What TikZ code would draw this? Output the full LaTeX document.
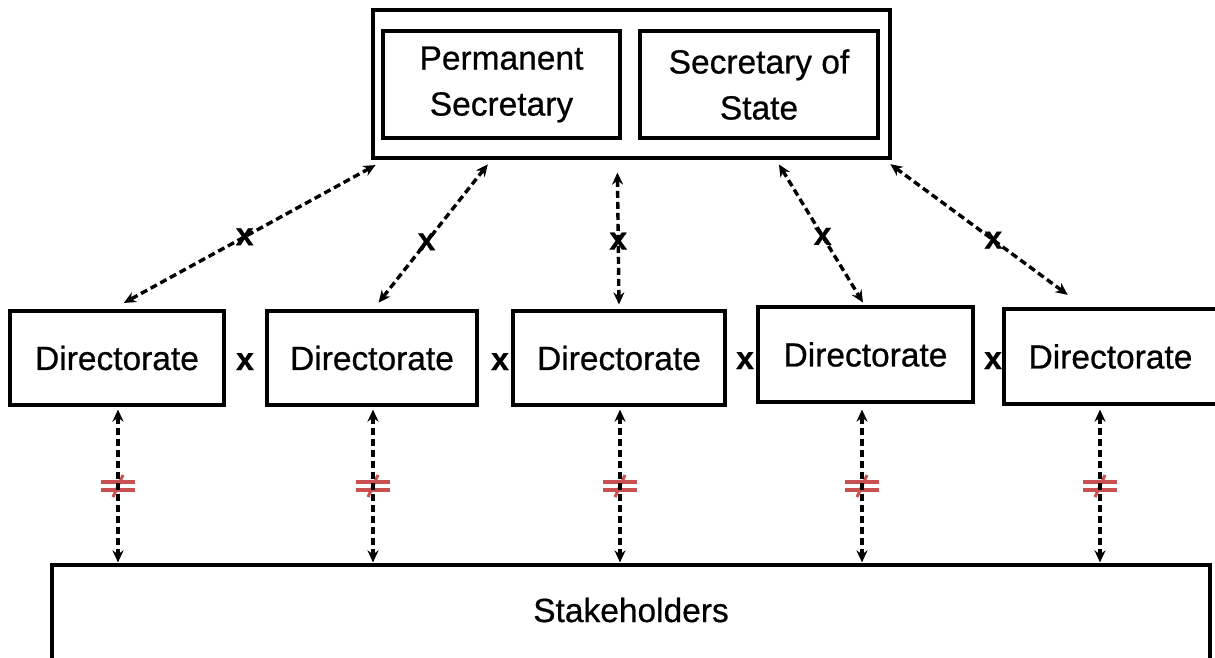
\documentclass[tikz,border=0pt]{standalone}
\usepackage{fontspec}
\setmainfont{Liberation Sans}[FakeBold=0.6]
\usetikzlibrary{arrows.meta,calc}
\definecolor{neqred}{RGB}{200,80,80}
\begin{document}
\begin{tikzpicture}[x=1pt,y=-1pt,
  box/.style={draw, line width=3.2pt, inner sep=0pt, align=center,
    font=\fontsize{33.5}{46}\selectfont},
  link/.style={line width=3.4pt, dash pattern=on 7pt off 4pt,
    {Stealth[length=12pt,width=11pt]}-{Stealth[length=12pt,width=11pt]},
    shorten <=1pt, shorten >=1pt},
  xmark/.style={font=\bfseries\fontsize{32}{32}\selectfont, inner sep=0pt},
  neqmark/.pic={
    \draw[neqred, line width=4.5pt] (-17,-4) -- (17,-4) (-17,4) -- (17,4);
    \draw[neqred, line width=3pt] (-5,11) -- (5,-11);
  }]
\useasboundingbox (0,0) rectangle (1215,657);

% top group
\node[box, minimum width=517pt, minimum height=148pt] (top) at (631.5,84) {};
\node[box, minimum width=237pt, minimum height=107pt] (ps) at (501.5,84.5) {Permanent\\Secretary};
\node[box, minimum width=238pt, minimum height=107pt] (ss) at (759,84.5) {Secretary of\\State};

% directorates
\node[box, minimum width=214pt, minimum height=94pt] (d1) at (117,358) {Directorate};
\node[box, minimum width=210pt, minimum height=94pt] (d2) at (372,358) {Directorate};
\node[box, minimum width=212pt, minimum height=94pt] (d3) at (619,358) {Directorate};
\node[box, minimum width=215pt, minimum height=95pt] (d4) at (865.5,354.5) {Directorate};
\node[box, minimum width=213pt, minimum height=95pt] (d5) at (1110.5,356.5) {Directorate};

% stakeholders
\node[box, minimum width=1158pt, text height=57pt, text depth=88pt] (stake) at (631,637.5) {Stakeholders};

% x marks between directorates
\node[xmark, anchor=base] (x12) at (245,370) {x};
\node[xmark, anchor=base] (x23) at (500,370) {x};
\node[xmark, anchor=base] (x34) at (745,369) {x};
\node[xmark, anchor=base] (x45) at (993,369) {x};

% links top -> directorates
\draw[link] ($(top.south west)+(5,5)$) -- node[xmark, pos=0.52] (lx1) {x} ($(d1.north)+(6,-6)$);
\draw[link] ($(top.south west)+(117,4)$) -- node[xmark, pos=0.56] (lx2) {x} ($(d2.north)+(6,-6)$);
\draw[link] ($(top.south west)+(246,12)$) -- node[xmark, pos=0.52] (lx3) {x} ($(d3.north)+(0,-4)$);
\draw[link] ($(top.south west)+(407,4)$) -- node[xmark, pos=0.52] (lx4) {x} ($(d4.north)+(-2,-2)$);
\draw[link] ($(top.south east)+(-2,4)$) -- node[xmark, pos=0.58] (lx5) {x} ($(d5.north)+(-42,-12)$);

% links directorates -> stakeholders
\coordinate (s1) at ($(d1.south)+(1,2)$);
\coordinate (s2) at ($(d2.south)+(1,2)$);
\coordinate (s3) at ($(d3.south)+(1,2)$);
\coordinate (s4) at ($(d4.south)+(-3.5,5)$);
\coordinate (s5) at ($(d5.south)+(-10.5,3)$);
\foreach \i in {1,...,5}{
  \path ($(s\i)!0.5!(s\i |- stake.north)$) pic {neqmark};
  \draw[link] (s\i) -- (s\i |- stake.north);
}
\end{tikzpicture}
\end{document}
